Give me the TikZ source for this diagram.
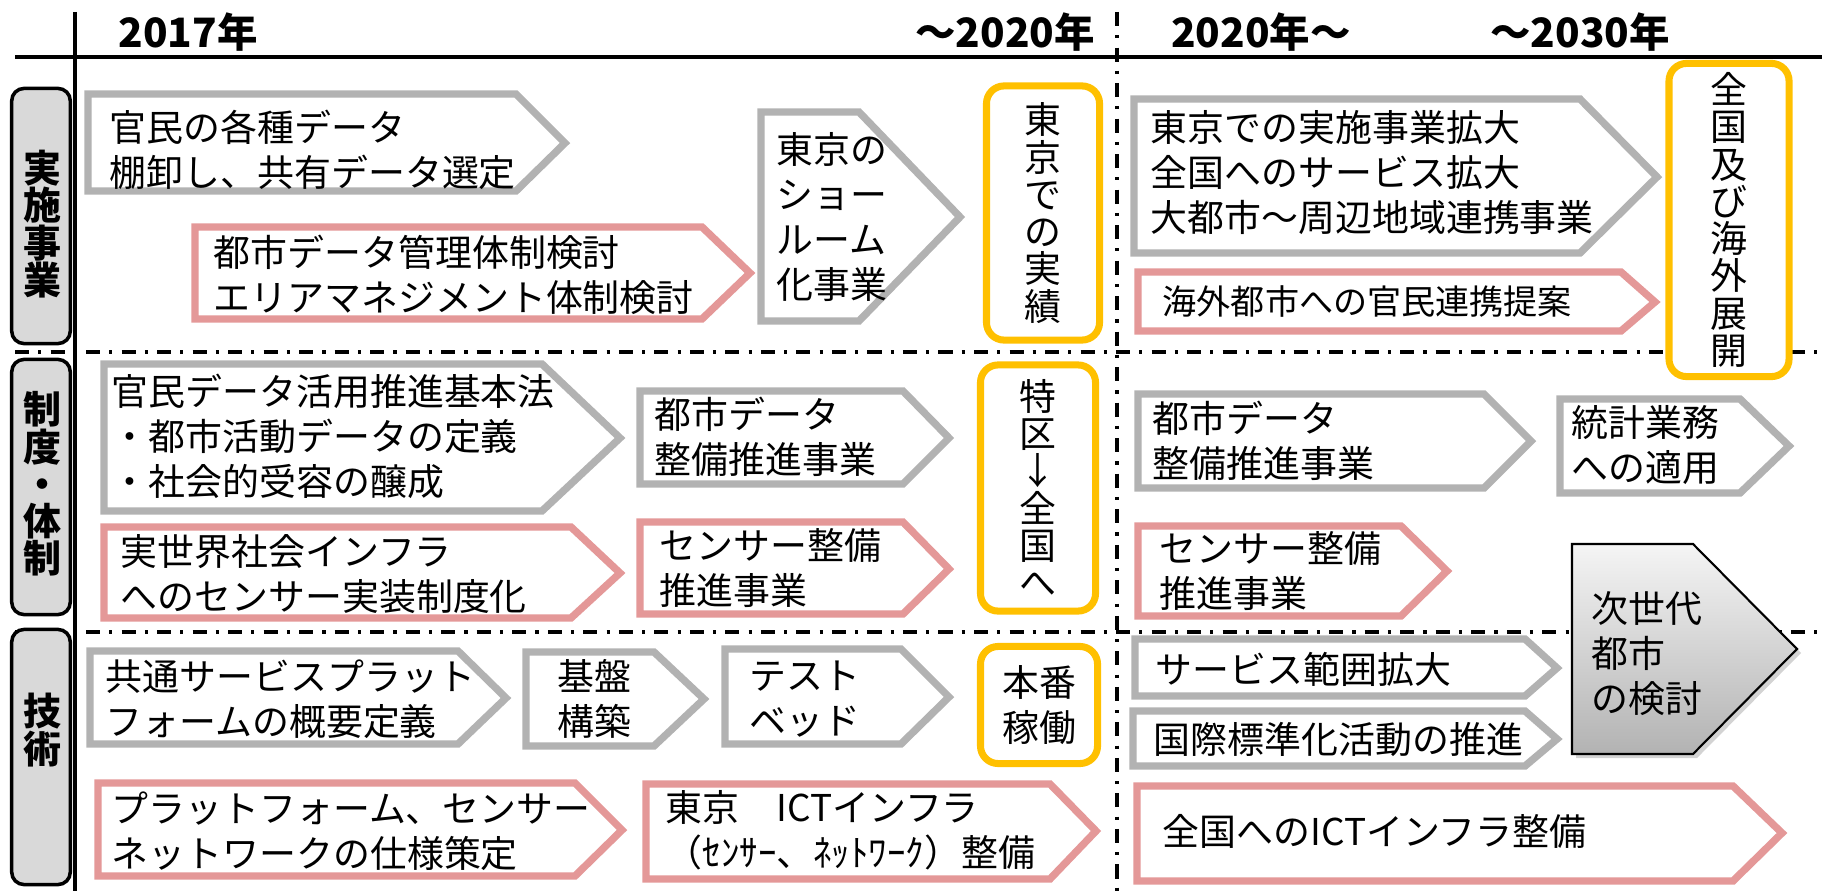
\documentclass[tikz,border=0pt]{standalone}
\usepackage{fontspec}
\newfontfamily\jpfont{Noto Sans CJK JP}
\usetikzlibrary{shadows}
\definecolor{arrowgrey}{RGB}{178,178,178}
\definecolor{arrowpink}{RGB}{228,152,152}
\definecolor{boxgold}{RGB}{255,192,0}
\definecolor{labelgrey}{RGB}{217,217,217}

\begin{document}
\begin{tikzpicture}[x=0.01cm, y=-0.01cm,
		grey_arrow/.style={draw=arrowgrey, line width=2.1pt, fill=white},
		pink_arrow/.style={draw=arrowpink, line width=2.1pt, fill=white},
		shade_arrow/.style={draw=black, line width=0.6pt, top color=black!4, bottom color=black!30,
			drop shadow={shadow xshift=0.4mm, shadow yshift=-0.4mm, opacity=0.35}},
		gold_box/.style={draw=boxgold, line width=2pt, fill=white, rounded corners=5pt, inner sep=0pt,
			align=center, font=\jpfont\fontsize{10.5}{10.6}\selectfont},
		row_box/.style={draw=black, line width=1pt, fill=labelgrey, rounded corners=3.5pt,
			minimum width=0.585cm, minimum height=2.55cm},
		row_text/.style={font=\jpfont\bfseries\fontsize{10.8}{10.6}\selectfont, align=center, inner sep=0pt},
		year_text/.style={font=\jpfont\bfseries\fontsize{11.5}{13}\selectfont, inner sep=0pt},
		body_text/.style={font=\jpfont\fontsize{10.5}{12.8}\selectfont, align=left, anchor=west, inner sep=0pt},
		axis_line/.style={draw=black, line width=0.9pt},
		split_line/.style={draw=black, line width=0.9pt, dash pattern=on 4pt off 2.6pt on 0.9pt off 2.6pt}]

		\useasboundingbox (0,0) rectangle (1822,891);

		\draw[axis_line] (15,57) -- (1822,57);
		\draw[axis_line] (75,12) -- (75,891);
		\draw[split_line] (1117,12) -- (1117,891);
		\draw[split_line] (15,352) -- (1822,352);
		\draw[split_line] (15,632) -- (1822,632);

		\node[year_text] (y0) at (188,32) {2017年};
		\node[year_text] (y1) at (1005,32) {～2020年};
		\node[year_text] (y2) at (1261,32) {2020年～};
		\node[year_text] (y3) at (1580,32) {～2030年};

		\node[row_box] (r0) at (41,216) {};
		\node[row_box] (r1) at (41,487) {};
		\node[row_box] (r2) at (41,757) {};
		\node[row_text] (r0t) at (42,224) {実\\施\\事\\業};
		\node[row_text] (r1t) at (42,484) {制\\度\\・\\体\\制};
		\node[row_text] (r2t) at (42,730) {技\\術};

		\draw[grey_arrow] (88,94) -- (516,94) -- (565,143) -- (516,191) -- (88,191) -- cycle;
		\node[body_text] (t0) at (109,150) {官民の各種データ\\棚卸し、共有データ選定};
		\draw[pink_arrow] (195,227) -- (702,227) -- (750,273) -- (702,319) -- (195,319) -- cycle;
		\node[body_text] (t1) at (213,275) {都市データ管理体制検討\\エリアマネジメント体制検討};
		\draw[grey_arrow] (761,112) -- (859,112) -- (960,217) -- (859,321) -- (761,321) -- cycle;
		\node[body_text] (t2) at (776,217) {東京の\\ショー\\ルーム\\化事業};
		\node[gold_box, minimum width=1.13cm, minimum height=2.54cm] (g0) at (1043,213) {東\\京\\で\\の\\実\\績};
		\draw[grey_arrow] (1134,99) -- (1580,99) -- (1657,177) -- (1580,253) -- (1134,253) -- cycle;
		\node[body_text] (t3) at (1150,173) {東京での実施事業拡大\\全国へのサービス拡大\\大都市～周辺地域連携事業};
		\draw[pink_arrow] (1138,272) -- (1621,272) -- (1655,302) -- (1621,331) -- (1138,331) -- cycle;
		\node[body_text, font=\jpfont\fontsize{9.7}{11}\selectfont] (t4) at (1162,302) {海外都市への官民連携提案};
		\node[gold_box, minimum width=1.2cm, minimum height=3.13cm] (g1) at (1729,220) {全\\国\\及\\び\\海\\外\\展\\開};

		\draw[grey_arrow] (104,364) -- (542,364) -- (620,438) -- (542,511) -- (104,511) -- cycle;
		\node[body_text] (t5) at (111,436) {官民データ活用推進基本法\\・都市活動データの定義\\・社会的受容の醸成};
		\draw[pink_arrow] (104,527) -- (571,527) -- (620,573) -- (571,618) -- (104,618) -- cycle;
		\node[body_text] (t6) at (120,574) {実世界社会インフラ\\へのセンサー実装制度化};
		\draw[grey_arrow] (640,391) -- (903,391) -- (949,438) -- (903,484) -- (640,484) -- cycle;
		\node[body_text] (t7) at (654,437) {都市データ\\整備推進事業};
		\draw[pink_arrow] (640,522) -- (903,522) -- (949,569) -- (903,614) -- (640,614) -- cycle;
		\node[body_text] (t8) at (659,568) {センサー整備\\推進事業};
		\node[gold_box, minimum width=1.15cm, minimum height=2.46cm] (g2) at (1038,488) {特\\区\\↓\\全\\国\\へ};
		\draw[grey_arrow] (1138,394) -- (1484,394) -- (1531,441) -- (1484,488) -- (1138,488) -- cycle;
		\node[body_text] (t9) at (1152,441) {都市データ\\整備推進事業};
		\draw[grey_arrow] (1560,399) -- (1740,399) -- (1789,446) -- (1740,493) -- (1560,493) -- cycle;
		\node[body_text] (t10) at (1571,445) {統計業務\\への適用};
		\draw[pink_arrow] (1138,526) -- (1401,526) -- (1447,571) -- (1401,616) -- (1138,616) -- cycle;
		\node[body_text] (t11) at (1159,571) {センサー整備\\推進事業};
		\draw[shade_arrow] (1572,544) -- (1693,544) -- (1797,649) -- (1693,754) -- (1572,754) -- cycle;
		\node[body_text] (t12) at (1591,654) {次世代\\都市\\の検討};

		\draw[grey_arrow] (90,651) -- (458,651) -- (506,698) -- (458,744) -- (90,744) -- cycle;
		\node[body_text] (t13) at (105,699) {共通サービスプラット\\フォームの概要定義};
		\draw[grey_arrow] (526,652) -- (654,652) -- (704,699) -- (654,746) -- (526,746) -- cycle;
		\node[body_text] (t14) at (557,699) {基盤\\構築};
		\draw[grey_arrow] (725,649) -- (901,649) -- (949,697) -- (901,744) -- (725,744) -- cycle;
		\node[body_text] (t15) at (749,699) {テスト\\ベッド};
		\node[gold_box, font=\jpfont\fontsize{10.5}{12.8}\selectfont, minimum width=1.17cm, minimum height=1.17cm] (g3) at (1039,705) {本番\\稼働};
		\draw[pink_arrow] (98,783) -- (575,783) -- (622,830) -- (575,876) -- (98,876) -- cycle;
		\node[body_text] (t16) at (111,831) {プラットフォーム、センサー\\ネットワークの仕様策定};
		\draw[pink_arrow] (646,784) -- (1050,784) -- (1096,831) -- (1050,879) -- (646,879) -- cycle;
		\node[body_text] (t17) at (665,830) {東京　ICTインフラ\\（ｾﾝｻｰ、ﾈｯﾄﾜｰｸ）整備};
		\draw[grey_arrow] (1135,639) -- (1525,639) -- (1557,668) -- (1525,696) -- (1135,696) -- cycle;
		\node[body_text] (t18) at (1155,669) {サービス範囲拡大};
		\draw[grey_arrow] (1133,711) -- (1525,711) -- (1557,739) -- (1525,766) -- (1133,766) -- cycle;
		\node[body_text] (t19) at (1153,739) {国際標準化活動の推進};
		\draw[pink_arrow] (1137,786) -- (1733,786) -- (1782,833) -- (1733,881) -- (1137,881) -- cycle;
		\node[body_text] (t20) at (1162,831) {全国へのICTインフラ整備};
\end{tikzpicture}
\end{document}
